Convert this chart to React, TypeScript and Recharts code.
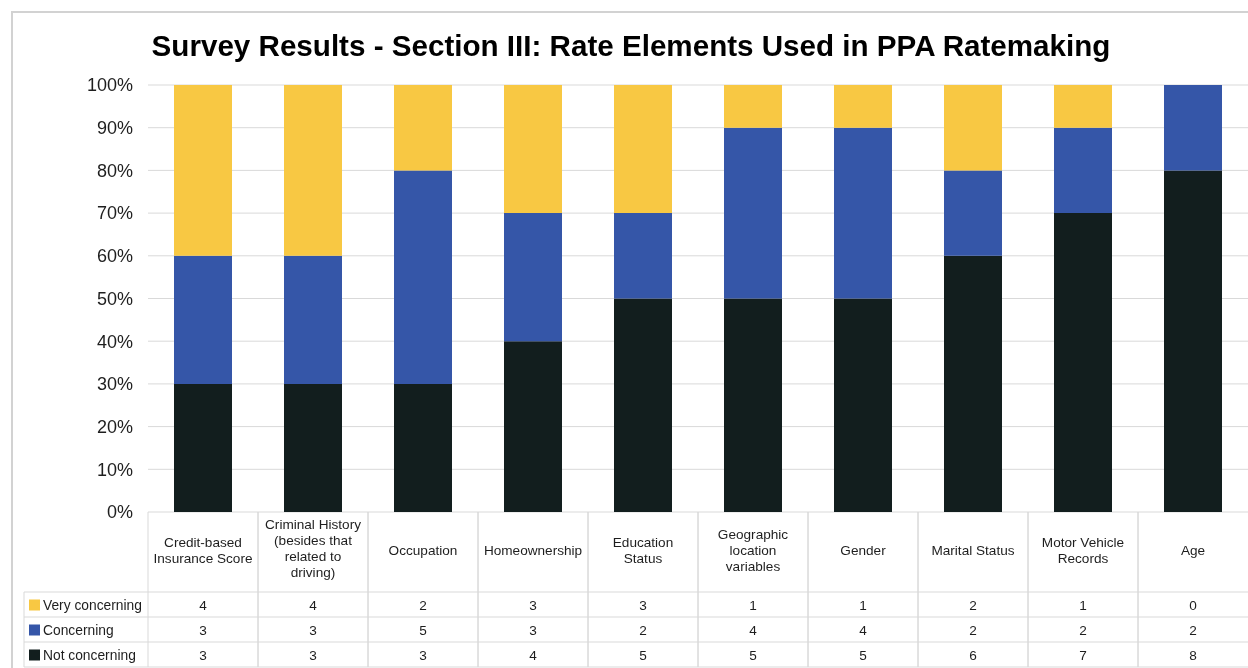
import React from 'react';
import { BarChart, Bar, XAxis, YAxis, CartesianGrid, Customized } from 'recharts';

const categories = [
  'Credit-based\nInsurance Score',
  'Criminal History\n(besides that\nrelated to\ndriving)',
  'Occupation',
  'Homeownership',
  'Education\nStatus',
  'Geographic\nlocation\nvariables',
  'Gender',
  'Marital Status',
  'Motor Vehicle\nRecords',
  'Age',
];
const veryConcerning = [4, 4, 2, 3, 3, 1, 1, 2, 1, 0];
const concerning = [3, 3, 5, 3, 2, 4, 4, 2, 2, 2];
const notConcerning = [3, 3, 3, 4, 5, 5, 5, 6, 7, 8];
const yTicks = [0, 0.1, 0.2, 0.3, 0.4, 0.5, 0.6, 0.7, 0.8, 0.9, 1];
const seriesNames = ['Very concerning', 'Concerning', 'Not concerning'];
const seriesColors = ['#F8C843', '#3556A8', '#121E1E'];
const title = 'Survey Results - Section III: Rate Elements Used in PPA Ratemaking';

const data = categories.map((c, i) => ({
  name: c,
  not: notConcerning[i],
  con: concerning[i],
  very: veryConcerning[i],
}));

const FONT = '"Liberation Sans", Arial, Helvetica, sans-serif';
const GRID = '#d9d9d9';
const TEXT = '#1e1e1e';
const HEADER_H = 80;
const ROW_H = 25;

const TableTick = (props: any) => {
  const { x, y, payload, index, width, visibleTicksCount } = props;
  const count = visibleTicksCount || categories.length;
  const cellW = payload && payload.offset > 0 ? payload.offset * 2 : width / count;
  const left = x - cellW / 2;
  const right = left + cellW;
  const top = y;
  const bottom = top + HEADER_H + 3 * ROW_H;
  const lines = String(payload.value).split('\n');
  const lineH = 16;
  const mid = top + HEADER_H / 2 - (lines.length > 3 ? 4 : 2);
  const firstY = mid - ((lines.length - 1) * lineH) / 2;
  const rows = [veryConcerning, concerning, notConcerning];
  const legendLeft = 16;
  const isLast = index === count - 1;
  return (
    <g>
      <line x1={left} x2={left} y1={top} y2={bottom} stroke={GRID} />
      {!isLast && <line x1={right} x2={right} y1={top} y2={bottom} stroke={GRID} />}
      {[0, 1, 2, 3].map((r) => (
        <line
          key={'h' + r}
          x1={index === 0 ? legendLeft : left}
          x2={right}
          y1={top + HEADER_H + r * ROW_H}
          y2={top + HEADER_H + r * ROW_H}
          stroke={GRID}
        />
      ))}
      {index === 0 && (
        <line x1={legendLeft} x2={legendLeft} y1={top + HEADER_H} y2={bottom} stroke={GRID} />
      )}
      {lines.map((ln, k) => (
        <text
          key={'t' + k}
          x={x}
          y={firstY + k * lineH}
          textAnchor="middle"
          dominantBaseline="central"
          fontSize={13.6}
          fill={TEXT}
          fontFamily={FONT}
        >
          {ln}
        </text>
      ))}
      {rows.map((arr, r) => (
        <text
          key={'v' + r}
          x={x}
          y={top + HEADER_H + r * ROW_H + ROW_H / 2 + 1}
          textAnchor="middle"
          dominantBaseline="central"
          fontSize={13.6}
          fill={TEXT}
          fontFamily={FONT}
        >
          {arr[index]}
        </text>
      ))}
      {index === 0 &&
        seriesNames.map((nm, r) => (
          <g key={'l' + r}>
            <rect
              x={legendLeft + 5}
              y={top + HEADER_H + r * ROW_H + ROW_H / 2 - 5}
              width={11}
              height={11}
              fill={seriesColors[r]}
            />
            <text
              x={legendLeft + 19}
              y={top + HEADER_H + r * ROW_H + ROW_H / 2 + 1}
              dominantBaseline="central"
              fontSize={13.8}
              fill={TEXT}
              fontFamily={FONT}
            >
              {nm}
            </text>
          </g>
        ))}
    </g>
  );
};

const Frame = () => (
  <g>
    <rect x={4} y={4} width={1400} height={800} fill="none" stroke="#d2d2d2" strokeWidth={2} />
    <text
      x={623}
      y={48}
      textAnchor="middle"
      fontSize={29.6}
      fontWeight="bold"
      fill="#000"
      fontFamily={FONT}
    >
      {title}
    </text>
  </g>
);

export default function App() {
  return (
    <div style={{ fontFamily: FONT, position: 'fixed', top: 8, left: 8 }}>
      <BarChart
        width={1240}
        height={660}
        data={data}
        stackOffset="expand"
        margin={{ top: 77, right: 0, left: 0, bottom: 0 }}
        barSize={58}
        style={{ fontFamily: FONT }}
      >
        <Customized component={Frame} />
        <CartesianGrid vertical={false} stroke={GRID} />
        <XAxis
          dataKey="name"
          height={156}
          axisLine={false}
          tickLine={false}
          tickSize={0}
          tickMargin={0}
          interval={0}
          tick={<TableTick />}
        />
        <YAxis
          width={140}
          domain={[0, 1]}
          ticks={yTicks}
          axisLine={false}
          tickLine={false}
          tickMargin={9}
          tickFormatter={(v: number) => `${Math.round(v * 100)}%`}
          tick={{ fontSize: 18, fill: TEXT, fontFamily: FONT }}
        />
        <Bar dataKey="not" name={seriesNames[2]} stackId="a" fill={seriesColors[2]} isAnimationActive={false} />
        <Bar dataKey="con" name={seriesNames[1]} stackId="a" fill={seriesColors[1]} isAnimationActive={false} />
        <Bar dataKey="very" name={seriesNames[0]} stackId="a" fill={seriesColors[0]} isAnimationActive={false} />
      </BarChart>
    </div>
  );
}
